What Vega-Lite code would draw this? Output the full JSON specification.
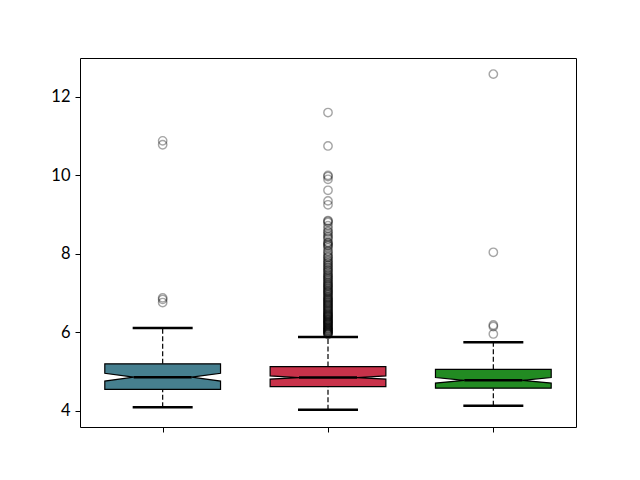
{
  "$schema": "https://vega.github.io/schema/vega-lite/v6.json",
  "width": 496,
  "height": 369,
  "autosize": "none",
  "padding": {"left": 80, "top": 58, "right": 64, "bottom": 53},
  "background": "white",
  "config": {
    "view": {"stroke": "black", "strokeWidth": 1},
    "axis": {"grid": false, "domain": false, "tickColor": "black", "tickSize": 5, "tickWidth": 1, "labelPadding": 5, "labelColor": "black", "labelFont": "Lato", "labelFontSize": 16.5, "title": null}
  },
  "datasets": {
    "boxes": [
      {"name": "A", "pos": 1, "lo": 4.09, "q1": 4.55, "nlo": 4.76, "med": 4.86, "nhi": 4.96, "q3": 5.2, "hi": 6.11},
      {"name": "B", "pos": 2, "lo": 4.03, "q1": 4.62, "nlo": 4.81, "med": 4.85, "nhi": 4.89, "q3": 5.13, "hi": 5.88},
      {"name": "C", "pos": 3, "lo": 4.13, "q1": 4.58, "nlo": 4.71, "med": 4.78, "nhi": 4.85, "q3": 5.06, "hi": 5.75}
    ],
    "outliers": [
      {"pos": 1, "v": 10.88}, {"pos": 1, "v": 10.78}, {"pos": 1, "v": 6.88}, {"pos": 1, "v": 6.84}, {"pos": 1, "v": 6.76},
      {"pos": 2, "v": 5.95}, {"pos": 2, "v": 5.97}, {"pos": 2, "v": 6.0}, {"pos": 2, "v": 6.02}, {"pos": 2, "v": 6.05},
      {"pos": 2, "v": 6.08}, {"pos": 2, "v": 6.1}, {"pos": 2, "v": 6.13}, {"pos": 2, "v": 6.15}, {"pos": 2, "v": 6.18},
      {"pos": 2, "v": 6.21}, {"pos": 2, "v": 6.24}, {"pos": 2, "v": 6.27}, {"pos": 2, "v": 6.3}, {"pos": 2, "v": 6.33},
      {"pos": 2, "v": 6.37}, {"pos": 2, "v": 6.4}, {"pos": 2, "v": 6.43}, {"pos": 2, "v": 6.46}, {"pos": 2, "v": 6.5},
      {"pos": 2, "v": 6.54}, {"pos": 2, "v": 6.58}, {"pos": 2, "v": 6.62}, {"pos": 2, "v": 6.66}, {"pos": 2, "v": 6.7},
      {"pos": 2, "v": 6.74}, {"pos": 2, "v": 6.78}, {"pos": 2, "v": 6.82}, {"pos": 2, "v": 6.86}, {"pos": 2, "v": 6.9},
      {"pos": 2, "v": 6.95}, {"pos": 2, "v": 7.0}, {"pos": 2, "v": 7.04}, {"pos": 2, "v": 7.08}, {"pos": 2, "v": 7.13},
      {"pos": 2, "v": 7.18}, {"pos": 2, "v": 7.22}, {"pos": 2, "v": 7.27}, {"pos": 2, "v": 7.33}, {"pos": 2, "v": 7.38},
      {"pos": 2, "v": 7.43}, {"pos": 2, "v": 7.48}, {"pos": 2, "v": 7.55}, {"pos": 2, "v": 7.6}, {"pos": 2, "v": 7.66},
      {"pos": 2, "v": 7.72}, {"pos": 2, "v": 7.78}, {"pos": 2, "v": 7.85}, {"pos": 2, "v": 7.92}, {"pos": 2, "v": 7.95},
      {"pos": 2, "v": 8.0}, {"pos": 2, "v": 8.08}, {"pos": 2, "v": 8.15}, {"pos": 2, "v": 8.22}, {"pos": 2, "v": 8.25},
      {"pos": 2, "v": 8.3}, {"pos": 2, "v": 8.38}, {"pos": 2, "v": 8.45}, {"pos": 2, "v": 8.5}, {"pos": 2, "v": 8.58},
      {"pos": 2, "v": 8.65}, {"pos": 2, "v": 8.72}, {"pos": 2, "v": 8.8}, {"pos": 2, "v": 8.85}, {"pos": 2, "v": 9.25},
      {"pos": 2, "v": 9.35}, {"pos": 2, "v": 9.62}, {"pos": 2, "v": 9.9}, {"pos": 2, "v": 9.97}, {"pos": 2, "v": 10.0},
      {"pos": 2, "v": 10.75}, {"pos": 2, "v": 11.6},
      {"pos": 2, "v": 5.96}, {"pos": 2, "v": 5.99}, {"pos": 2, "v": 6.01}, {"pos": 2, "v": 6.04}, {"pos": 2, "v": 6.06},
      {"pos": 2, "v": 6.09}, {"pos": 2, "v": 6.12}, {"pos": 2, "v": 6.16}, {"pos": 2, "v": 6.2}, {"pos": 2, "v": 6.23},
      {"pos": 2, "v": 6.26}, {"pos": 2, "v": 6.29}, {"pos": 2, "v": 6.32}, {"pos": 2, "v": 6.35}, {"pos": 2, "v": 6.39},
      {"pos": 2, "v": 6.42}, {"pos": 2, "v": 6.45}, {"pos": 2, "v": 6.48}, {"pos": 2, "v": 6.52}, {"pos": 2, "v": 6.56},
      {"pos": 2, "v": 6.6}, {"pos": 2, "v": 6.64}, {"pos": 2, "v": 6.68}, {"pos": 2, "v": 6.72}, {"pos": 2, "v": 6.76},
      {"pos": 2, "v": 6.8}, {"pos": 2, "v": 6.84}, {"pos": 2, "v": 6.88}, {"pos": 2, "v": 6.92}, {"pos": 2, "v": 6.97},
      {"pos": 2, "v": 7.02}, {"pos": 2, "v": 7.06}, {"pos": 2, "v": 7.11}, {"pos": 2, "v": 7.16}, {"pos": 2, "v": 7.2},
      {"pos": 2, "v": 7.25}, {"pos": 2, "v": 7.3}, {"pos": 2, "v": 7.36}, {"pos": 2, "v": 7.41}, {"pos": 2, "v": 7.46},
      {"pos": 2, "v": 7.52}, {"pos": 2, "v": 7.58}, {"pos": 2, "v": 7.64}, {"pos": 2, "v": 7.7}, {"pos": 2, "v": 7.76},
      {"pos": 2, "v": 7.82}, {"pos": 2, "v": 7.9}, {"pos": 2, "v": 8.05}, {"pos": 2, "v": 8.2}, {"pos": 2, "v": 8.28},
      {"pos": 2, "v": 8.42}, {"pos": 2, "v": 8.55}, {"pos": 2, "v": 8.83},
      {"pos": 3, "v": 12.58}, {"pos": 3, "v": 8.04}, {"pos": 3, "v": 6.19}, {"pos": 3, "v": 6.15}, {"pos": 3, "v": 5.96}
    ]
  },
  "layer": [
    {
      "data": {"name": "boxes"},
      "mark": {"type": "rule", "color": "black", "strokeWidth": 1.2, "strokeDash": [5, 2.5]},
      "encoding": {
        "x": {"field": "pos", "type": "quantitative", "scale": {"domain": [0.5, 3.5], "nice": false, "zero": false}, "axis": {"values": [1, 2, 3], "labels": false}},
        "y": {"field": "q3", "type": "quantitative", "scale": {"domain": [3.59, 12.99], "nice": false, "zero": false}, "axis": {"values": [4, 6, 8, 10, 12]}},
        "y2": {"field": "hi"}
      }
    },
    {
      "data": {"name": "boxes"},
      "mark": {"type": "rule", "color": "black", "strokeWidth": 1.2, "strokeDash": [5, 2.5]},
      "encoding": {
        "x": {"field": "pos", "type": "quantitative"},
        "y": {"field": "lo", "type": "quantitative"},
        "y2": {"field": "q1"}
      }
    },
    {
      "data": {"name": "boxes"},
      "transform": [
        {"fold": ["q1", "nlo", "med", "nhi", "q3"], "as": ["stat", "yv"]},
        {"calculate": "datum.stat === 'med' ? 0.175 : 0.35", "as": "half"},
        {"calculate": "datum.pos - datum.half", "as": "xl"},
        {"calculate": "datum.pos + datum.half", "as": "xr"}
      ],
      "mark": {"type": "area", "orient": "horizontal", "stroke": "black", "strokeWidth": 1.2, "opacity": 1, "interpolate": "linear"},
      "encoding": {
        "y": {"field": "yv", "type": "quantitative"},
        "x": {"field": "xl", "type": "quantitative", "stack": null},
        "x2": {"field": "xr"},
        "fill": {"field": "name", "type": "nominal", "scale": {"domain": ["A", "B", "C"], "range": ["#467f8f", "#c8324a", "#228b22"]}, "legend": null}
      }
    },
    {
      "data": {"name": "boxes"},
      "mark": {"type": "tick", "orient": "horizontal", "color": "black", "size": 58, "thickness": 2.5, "opacity": 1},
      "encoding": {
        "x": {"field": "pos", "type": "quantitative"},
        "y": {"field": "med", "type": "quantitative"}
      }
    },
    {
      "data": {"name": "boxes"},
      "mark": {"type": "tick", "orient": "horizontal", "color": "black", "size": 60, "thickness": 2.5, "opacity": 1},
      "encoding": {
        "x": {"field": "pos", "type": "quantitative"},
        "y": {"field": "hi", "type": "quantitative"}
      }
    },
    {
      "data": {"name": "boxes"},
      "mark": {"type": "tick", "orient": "horizontal", "color": "black", "size": 60, "thickness": 2.5, "opacity": 1},
      "encoding": {
        "x": {"field": "pos", "type": "quantitative"},
        "y": {"field": "lo", "type": "quantitative"}
      }
    },
    {
      "data": {"name": "outliers"},
      "mark": {"type": "point", "shape": "circle", "filled": false, "stroke": "black", "strokeOpacity": 0.5, "strokeWidth": 1.4, "size": 70},
      "encoding": {
        "x": {"field": "pos", "type": "quantitative"},
        "y": {"field": "v", "type": "quantitative"}
      }
    }
  ]
}
